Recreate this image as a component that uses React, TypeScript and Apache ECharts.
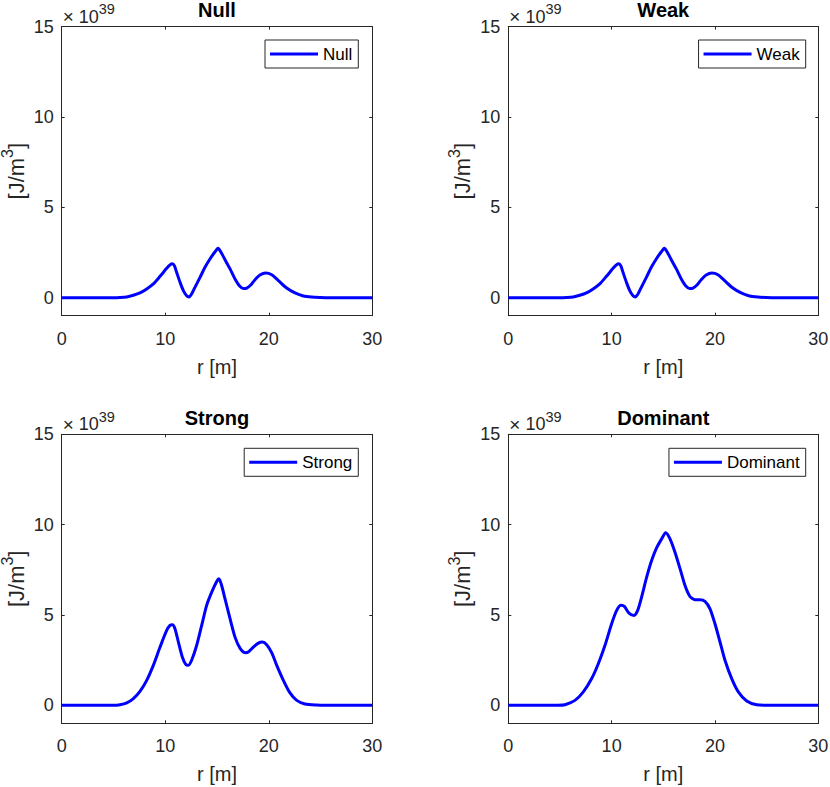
import { useEffect, useRef } from 'react';
import * as echarts from 'echarts';

// ---------- data ----------
const panelTitles = ['Null', 'Weak', 'Strong', 'Dominant'];
const xTicks = [0, 10, 20, 30];
const yTicks = [0, 5, 10, 15];
const xLabel = 'r [m]';
const exponentBase = '10';
const exponentPower = '39';

const nullR = [0, 5, 5.63, 6.28, 6.92, 7.56, 8.21, 8.85, 9.5, 10.14, 10.46, 10.69, 10.88, 11.1, 11.43, 11.75, 12.07, 12.3, 12.55, 12.87, 13.36, 13.84, 14.32, 14.81, 15.1, 15.39, 15.77, 16.26, 16.74, 17.16, 17.55, 17.87, 18.26, 18.67, 19.15, 19.7, 20.28, 20.93, 21.73, 22.53, 23.34, 24.14, 24.95, 26, 30];
const nullV = [0, 0, 0.01, 0.04, 0.13, 0.26, 0.48, 0.76, 1.18, 1.62, 1.81, 1.87, 1.77, 1.4, 0.85, 0.39, 0.11, 0.04, 0.2, 0.57, 1.12, 1.68, 2.14, 2.54, 2.73, 2.51, 2.1, 1.59, 1.03, 0.66, 0.51, 0.53, 0.7, 0.99, 1.25, 1.36, 1.27, 0.94, 0.53, 0.26, 0.09, 0.03, 0.01, 0, 0];

const weakR = [0, 5, 5.63, 6.28, 6.92, 7.56, 8.21, 8.85, 9.5, 10.14, 10.46, 10.69, 10.88, 11.1, 11.43, 11.75, 12.07, 12.3, 12.55, 12.87, 13.36, 13.84, 14.32, 14.81, 15.1, 15.39, 15.77, 16.26, 16.74, 17.16, 17.55, 17.87, 18.26, 18.67, 19.15, 19.7, 20.28, 20.93, 21.73, 22.53, 23.34, 24.14, 24.95, 26, 30];
const weakV = [0, 0, 0.01, 0.04, 0.13, 0.26, 0.48, 0.76, 1.18, 1.62, 1.81, 1.87, 1.77, 1.4, 0.85, 0.39, 0.11, 0.04, 0.2, 0.57, 1.12, 1.68, 2.14, 2.54, 2.73, 2.51, 2.1, 1.59, 1.03, 0.66, 0.51, 0.53, 0.7, 0.99, 1.25, 1.36, 1.27, 0.94, 0.53, 0.26, 0.09, 0.03, 0.01, 0, 0];

const strongR = [0, 5, 5.63, 6.28, 6.92, 7.56, 8.21, 8.85, 9.5, 10.14, 10.46, 10.69, 10.94, 11.27, 11.65, 11.98, 12.23, 12.55, 13.04, 13.52, 14.0, 14.49, 14.97, 15.19, 15.45, 15.77, 16.26, 16.74, 17.22, 17.71, 18.03, 18.51, 19.0, 19.38, 19.8, 20.28, 20.77, 21.41, 22.05, 22.7, 23.5, 24.63, 25.6, 30];
const strongV = [0, 0, 0.03, 0.13, 0.37, 0.77, 1.38, 2.21, 3.22, 4.14, 4.42, 4.46, 4.24, 3.5, 2.67, 2.26, 2.21, 2.49, 3.32, 4.42, 5.53, 6.26, 6.85, 7.0, 6.63, 5.9, 4.79, 3.77, 3.16, 2.91, 2.95, 3.22, 3.44, 3.5, 3.35, 2.91, 2.21, 1.38, 0.68, 0.27, 0.07, 0.01, 0, 0];

const dominantR = [0, 4.8, 5.49, 6.45, 7.26, 8.07, 8.71, 9.36, 10.0, 10.49, 10.91, 11.23, 11.68, 12.16, 12.52, 12.9, 13.39, 13.87, 14.36, 14.84, 15.23, 15.65, 16.13, 16.62, 17.1, 17.58, 18.07, 18.55, 19.03, 19.52, 20.0, 20.49, 20.97, 21.62, 22.26, 23.07, 24.04, 25.16, 26, 30];
const dominantV = [0, 0, 0.03, 0.27, 0.74, 1.48, 2.3, 3.32, 4.51, 5.25, 5.53, 5.47, 5.1, 4.97, 5.25, 5.99, 7.09, 8.01, 8.72, 9.21, 9.55, 9.21, 8.47, 7.56, 6.63, 6.02, 5.84, 5.84, 5.75, 5.34, 4.51, 3.5, 2.49, 1.47, 0.74, 0.24, 0.03, 0, 0, 0];

const seriesR = [nullR, weakR, strongR, dominantR];
const seriesV = [nullV, weakV, strongV, dominantV];

// ---------- layout / style ----------
const FONT = '"Liberation Sans", Arial, Helvetica, sans-serif';
const AXIS_COLOR = '#262626';
const LINE_COLOR = '#0000ff';

const grids = [
  { left: 61.7, top: 26.6, width: 310.6, height: 289.1 },
  { left: 508.3, top: 26.6, width: 310, height: 289.1 },
  { left: 61.7, top: 434.3, width: 310.6, height: 289 },
  { left: 508.3, top: 434.3, width: 310, height: 289 },
];
const titleTops = [0, 0, 408, 408];
const legendRights = [471.7, 24.3, 471.7, 24.3];
const legendTops = [40, 40, 448.3, 448.3];

function buildOption() {
  const axisLine = { show: true, onZero: false, lineStyle: { color: AXIS_COLOR, width: 1 } };
  const tick = { show: true, inside: true, length: 3, lineStyle: { color: AXIS_COLOR, width: 1 } };

  const xBottom = grids.map((_, i) => ({
    type: 'value', gridIndex: i, position: 'bottom', min: 0, max: 30, interval: 10,
    axisLine, axisTick: tick,
    axisLabel: { show: true, margin: 14, fontSize: 18, color: AXIS_COLOR, fontFamily: FONT },
    splitLine: { show: false },
    name: xLabel, nameLocation: 'middle', nameGap: 41, nameMoveOverlap: false,
    nameTextStyle: { fontSize: 20, color: AXIS_COLOR, fontFamily: FONT },
  }));
  const xTop = grids.map((_, i) => ({
    type: 'value', gridIndex: i, position: 'top', min: 0, max: 30, interval: 10,
    axisLine, axisTick: tick, axisLabel: { show: false }, splitLine: { show: false },
  }));
  const yLeft = grids.map((_, i) => ({
    type: 'value', gridIndex: i, position: 'left', min: -1, max: 15,
    axisLine, axisTick: { ...tick, customValues: yTicks },
    axisLabel: { show: true, customValues: yTicks, margin: 8, fontSize: 18, color: AXIS_COLOR, fontFamily: FONT },
    splitLine: { show: false },
    name: '{m|[J/m}{s|3}{m|]}', nameLocation: 'middle', nameGap: 29, nameRotate: 90, nameMoveOverlap: false,
    nameTextStyle: {
      fontSize: 22, color: AXIS_COLOR, fontFamily: FONT,
      rich: {
        m: { fontSize: 22, lineHeight: 33, color: AXIS_COLOR, fontFamily: FONT },
        s: { fontSize: 16, lineHeight: 13, verticalAlign: 'top', color: AXIS_COLOR, fontFamily: FONT },
      },
    },
  }));
  const yRight = grids.map((_, i) => ({
    type: 'value', gridIndex: i, position: 'right', min: -1, max: 15,
    axisLine, axisTick: { ...tick, customValues: yTicks }, axisLabel: { show: false }, splitLine: { show: false },
  }));

  const series = panelTitles.map((name, i) => ({
    type: 'line', name, xAxisIndex: i, yAxisIndex: i,
    data: seriesR[i].map((r, k) => [r, seriesV[i][k]]),
    symbol: 'none', showSymbol: false, smooth: 0.25,
    lineStyle: { color: LINE_COLOR, width: 3 }, itemStyle: { color: LINE_COLOR },
  }));

  const legend = panelTitles.map((name, i) => ({
    data: [name], right: legendRights[i], top: legendTops[i], orient: 'horizontal',
    icon: 'rect', itemWidth: 48, itemHeight: 3, itemGap: 0, selectedMode: false,
    textStyle: { fontSize: 17, color: '#000', fontFamily: FONT },
    borderColor: AXIS_COLOR, borderWidth: 1, backgroundColor: '#fff', padding: [5.5, 6, 5.5, 5],
  }));

  const title = panelTitles.map((text, i) => ({
    text, left: grids[i].left + grids[i].width / 2, top: titleTops[i], textAlign: 'center', padding: 0,
    textStyle: { fontSize: 20, fontWeight: 'bold', color: '#000', fontFamily: FONT },
  }));

  const graphic = grids.map((g) => ({
    type: 'text', x: g.left + 1, y: g.top + 5,
    style: {
      text: `{x|×}{n|${exponentBase}}{e|${exponentPower}}`,
      verticalAlign: 'bottom', align: 'left', fill: AXIS_COLOR, fontFamily: FONT, fontSize: 18,
      rich: {
        x: { fontSize: 19, lineHeight: 30, padding: [0, 5, 0, 0], fill: AXIS_COLOR, fontFamily: FONT },
        n: { fontSize: 18, lineHeight: 30, fill: AXIS_COLOR, fontFamily: FONT },
        e: { fontSize: 14.5, lineHeight: 12, verticalAlign: 'top', fill: AXIS_COLOR, fontFamily: FONT },
      },
    },
  }));

  return {
    animation: false,
    backgroundColor: '#fff',
    textStyle: { fontFamily: FONT },
    title,
    grid: grids.map((g) => ({ ...g, containLabel: false, outerBoundsMode: 'none', show: false })),
    xAxis: [...xBottom, ...xTop],
    yAxis: [...yLeft, ...yRight],
    legend,
    series,
    graphic,
  };
}

export default function App() {
  const ref = useRef<HTMLDivElement>(null);
  useEffect(() => {
    if (!ref.current) return;
    const chart = echarts.init(ref.current, null, { renderer: 'svg' });
    chart.setOption(buildOption() as any);
    return () => chart.dispose();
  }, []);
  return (
    <div
      ref={ref}
      style={{ position: 'absolute', left: 0, top: 0, width: 830, height: 787, background: '#fff' }}
    />
  );
}
